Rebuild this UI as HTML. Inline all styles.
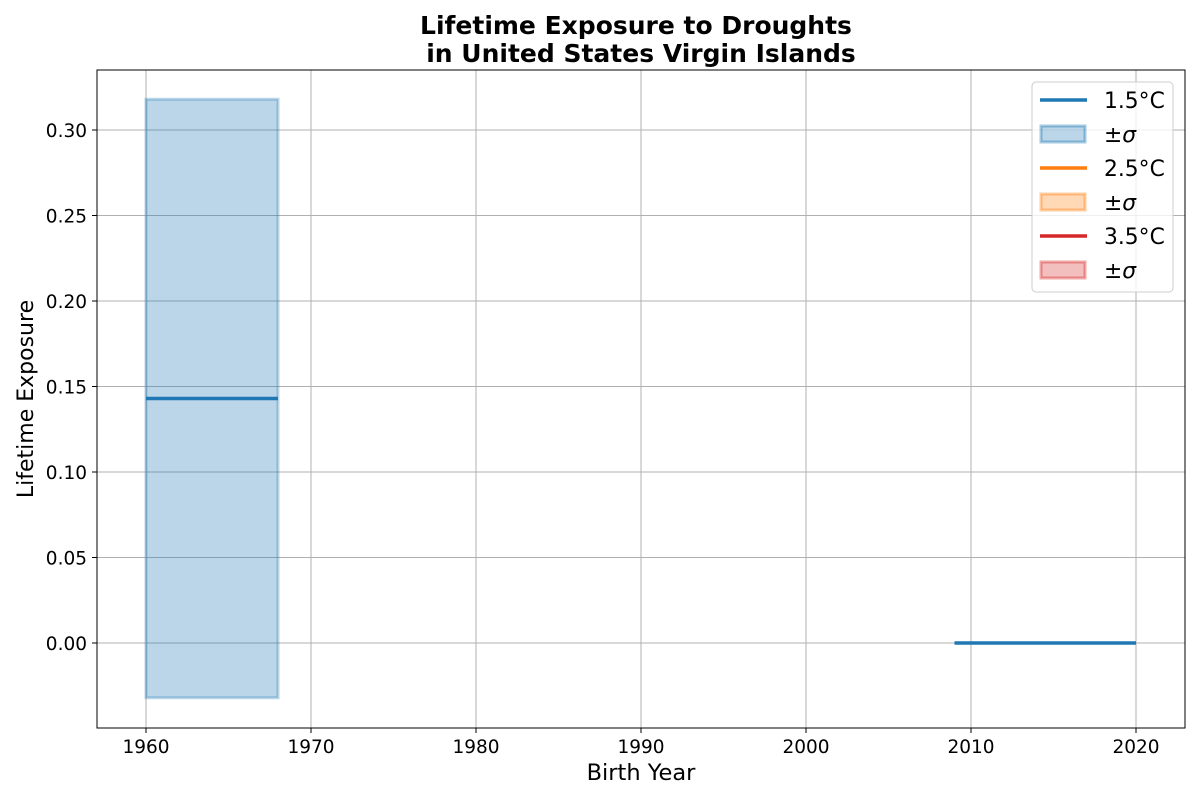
<!DOCTYPE html>
<html><head><meta charset="utf-8"><style>
body{margin:0;background:#fff;font-family:"Liberation Sans","DejaVu Sans",sans-serif}
</style></head><body>
<svg id="chart" width="1200" height="800" xmlns="http://www.w3.org/2000/svg" font-family="DejaVu Sans, Liberation Sans, sans-serif">
<g id="grid"></g>
<g id="marks"></g>
<rect x="97" y="70" width="1088" height="658" fill="none" stroke="#000" stroke-width="1"/>
<g id="ticks"></g>
<text x="636" y="34" text-anchor="middle" font-size="25" font-weight="bold">Lifetime Exposure to Droughts</text>
<text x="641" y="62" text-anchor="middle" font-size="25" font-weight="bold">in United States Virgin Islands</text>
<text x="641" y="780" text-anchor="middle" font-size="22.5">Birth Year</text>
<text transform="translate(33,399) rotate(-90)" text-anchor="middle" font-size="22">Lifetime Exposure</text>
<g>
<rect x="1032" y="82" width="141" height="210" rx="4" fill="#fff" fill-opacity="0.8" stroke="#ccc"/>
<line x1="1040" y1="100" x2="1087" y2="100" stroke="#1f77b4" stroke-width="3.5"/>
<text x="1104" y="108" font-size="21.8">1.5°C</text>
<rect x="1041" y="126" width="44" height="16" fill="#1f77b4" fill-opacity="0.3" stroke="#1f77b4" stroke-opacity="0.4" stroke-width="3"/>
<text x="1104" y="142" font-size="21.8">±<tspan font-style="italic">σ</tspan></text>
<line x1="1040" y1="168" x2="1087" y2="168" stroke="#ff7f0e" stroke-width="3.5"/>
<text x="1104" y="176" font-size="21.8">2.5°C</text>
<rect x="1041" y="194" width="44" height="16" fill="#ff7f0e" fill-opacity="0.3" stroke="#ff7f0e" stroke-opacity="0.4" stroke-width="3"/>
<text x="1104" y="210" font-size="21.8">±<tspan font-style="italic">σ</tspan></text>
<line x1="1040" y1="236" x2="1087" y2="236" stroke="#d62728" stroke-width="3.5"/>
<text x="1104" y="244" font-size="21.8">3.5°C</text>
<rect x="1041" y="262" width="44" height="16" fill="#d62728" fill-opacity="0.3" stroke="#d62728" stroke-opacity="0.4" stroke-width="3"/>
<text x="1104" y="278" font-size="21.8">±<tspan font-style="italic">σ</tspan></text>
</g>
</svg>
<script>
const xTicks=[1960,1970,1980,1990,2000,2010,2020];
const yTicks=[0.00,0.05,0.10,0.15,0.20,0.25,0.30];
const meanSegments=[[1960,1968,0.143],[2009,2020,0.0]];
const bandYears=[1960,1968];
const bandLow=[-0.032,-0.032];
const bandHigh=[0.318,0.318];
const X=v=>146+(v-1960)*16.5;
const Y=v=>643-v*1710;
const NS="http://www.w3.org/2000/svg";
function mk(parent,tag,attrs){const e=document.createElementNS(NS,tag);for(const k in attrs)e.setAttribute(k,attrs[k]);parent.appendChild(e);return e;}
const grid=document.getElementById('grid'),ticks=document.getElementById('ticks'),marks=document.getElementById('marks');
xTicks.forEach(t=>{
 const g=mk(grid,'line',{x1:X(t),x2:X(t),y1:70,y2:728,stroke:'#b0b0b0','stroke-width':1});
 
 
 const tk=mk(ticks,'line',{x1:X(t),x2:X(t),y1:728,y2:733,stroke:'#000'});
 
 
 const tx=mk(ticks,'text',{x:X(t),y:753,'text-anchor':'middle','font-size':18.5});tx.textContent=t;
 
 
});
yTicks.forEach(t=>{
 const g=mk(grid,'line',{x1:97,x2:1185,y1:Y(t),y2:Y(t),stroke:'#b0b0b0','stroke-width':1});
 
 
 const tk=mk(ticks,'line',{x1:92,x2:97,y1:Y(t),y2:Y(t),stroke:'#000'});
 
 
 const tx=mk(ticks,'text',{x:87,y:Y(t)+7,'text-anchor':'end','font-size':18.5});tx.textContent=t.toFixed(2);
 
 
});
let pts=bandYears.map((y,i)=>X(y)+','+Y(bandHigh[i]));
for(let i=bandYears.length-1;i>=0;i--)pts.push(X(bandYears[i])+','+Y(bandLow[i]));
const band=mk(marks,'polygon',{points:pts.join(' '),fill:'#1f77b4','fill-opacity':0.3,stroke:'#1f77b4','stroke-opacity':0.3,'stroke-width':3});


meanSegments.forEach(s=>{
 const l=mk(marks,'line',{x1:X(s[0]),x2:X(s[1]),y1:Y(s[2]),y2:Y(s[2]),stroke:'#1f77b4','stroke-width':3.5});
 
 
});
</script>
</body></html>
